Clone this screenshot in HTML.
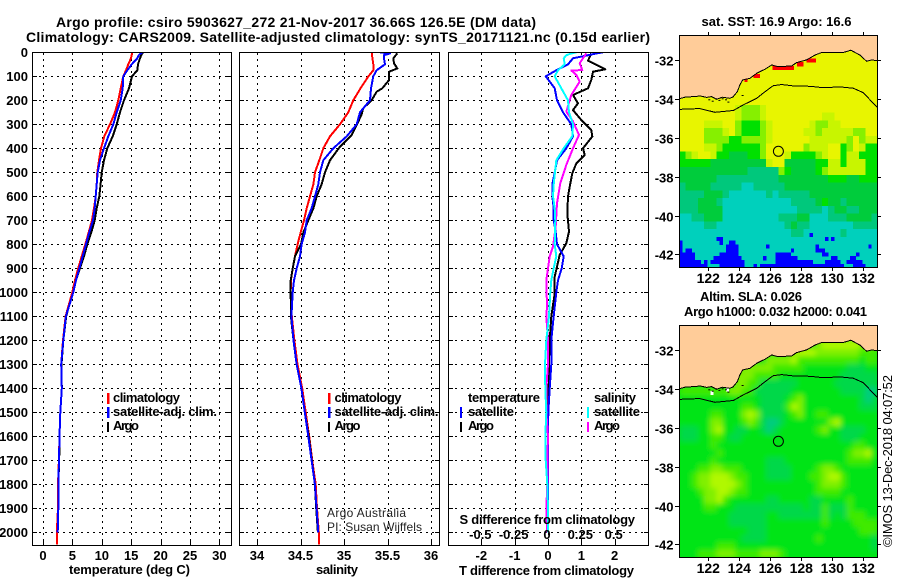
<!DOCTYPE html>
<html>
<head>
<meta charset="utf-8">
<title>Argo profile</title>
<style>
html,body{margin:0;padding:0;background:#fff;width:900px;height:580px;overflow:hidden}
svg{display:block}
text{font-family:"Liberation Sans",sans-serif;font-weight:bold;font-size:13px;fill:#000}
.thin{font-weight:normal}
.frame{fill:none;stroke:#000;stroke-width:1;shape-rendering:crispEdges}
.dot{stroke:#000;stroke-width:1;stroke-dasharray:2 4;shape-rendering:crispEdges;fill:none}
.tick{stroke:#000;stroke-width:1;shape-rendering:crispEdges;fill:none}
.prof{fill:none;stroke-width:2;shape-rendering:crispEdges;stroke-linejoin:round}
</style>
</head>
<body>
<svg id="chart" xmlns="http://www.w3.org/2000/svg" width="900" height="580" viewBox="0 0 900 580">
<defs>
<clipPath id="clipT"><rect x="33" y="53" width="198" height="492"/></clipPath>
<clipPath id="clipS"><rect x="240" y="53" width="199" height="492"/></clipPath>
<clipPath id="clipD"><rect x="449" y="53" width="199" height="492"/></clipPath>
<clipPath id="clipM1"><rect x="679.5" y="35" width="198" height="232.5"/></clipPath>
<clipPath id="clipM2"><rect x="679.5" y="325" width="198" height="232.5"/></clipPath>
<filter id="smooth" filterUnits="userSpaceOnUse" x="660" y="300" width="240" height="280"><feGaussianBlur stdDeviation="2.6"/></filter>
</defs>
<text x="56" y="27" font-size="14" style="font-size:14px" textLength="480" lengthAdjust="spacing">Argo profile: csiro 5903627_272 21-Nov-2017 36.66S 126.5E (DM data)</text>
<text x="26" y="42" style="font-size:14px" textLength="624" lengthAdjust="spacing">Climatology: CARS2009. Satellite-adjusted climatology: synTS_20171121.nc (0.15d earlier)</text>

<g id="gridLayer"></g>
<g id="marksT" clip-path="url(#clipT)"></g>
<g id="marksS" clip-path="url(#clipS)"></g>
<g id="marksD" clip-path="url(#clipD)"></g>
<rect class="frame" x="32.5" y="52.5" width="199" height="493"/>
<rect class="frame" x="239.5" y="52.5" width="200" height="493"/>
<rect class="frame" x="448.5" y="52.5" width="200" height="493"/>
<g id="labels"></g>

<text x="69" y="574" textLength="121" lengthAdjust="spacing">temperature (deg C)</text>
<text x="316" y="574" textLength="42" lengthAdjust="spacing">salinity</text>
<text x="459" y="575" textLength="175" lengthAdjust="spacing">T difference from climatology</text>
<text x="459.5" y="524" textLength="175.5" lengthAdjust="spacing">S difference from climatology</text>

<g>
<rect x="107" y="393" width="2.5" height="11" fill="#f00"/>
<text x="113" y="402" textLength="67" lengthAdjust="spacing">climatology</text>
<rect x="107" y="407" width="2.5" height="11" fill="#00f"/>
<text x="113" y="416" textLength="104" lengthAdjust="spacing">satellite-adj. clim.</text>
<rect x="107" y="422" width="2" height="10" fill="#000"/>
<text x="113" y="430" textLength="26" lengthAdjust="spacing">Argo</text>
</g>
<g>
<rect x="328" y="393" width="2.5" height="11" fill="#f00"/>
<text x="334.5" y="402" textLength="67" lengthAdjust="spacing">climatology</text>
<rect x="328" y="407" width="2.5" height="11" fill="#00f"/>
<text x="334.5" y="416" textLength="104" lengthAdjust="spacing">satellite-adj. clim.</text>
<rect x="328" y="422" width="2" height="10" fill="#000"/>
<text x="334.5" y="430" textLength="26" lengthAdjust="spacing">Argo</text>
</g>
<g>
<text x="468" y="402" textLength="72" lengthAdjust="spacing">temperature</text>
<rect x="460" y="407" width="2" height="11" fill="#00f"/>
<text x="468" y="416" textLength="46" lengthAdjust="spacing">satellite</text>
<rect x="460" y="422" width="2" height="10" fill="#000"/>
<text x="468" y="430" textLength="26" lengthAdjust="spacing">Argo</text>
<text x="594" y="402" textLength="42" lengthAdjust="spacing">salinity</text>
<rect x="587" y="407" width="2" height="11" fill="#0ff"/>
<text x="594" y="416" textLength="46" lengthAdjust="spacing">satellite</text>
<rect x="587" y="422" width="2" height="10" fill="#f0f"/>
<text x="594" y="430" textLength="26" lengthAdjust="spacing">Argo</text>
</g>
<text class="thin" x="327" y="517" style="font-size:12px;fill:#222" textLength="79" lengthAdjust="spacing">Argo Australia</text>
<text class="thin" x="327" y="531" style="font-size:12px;fill:#222" textLength="95" lengthAdjust="spacing">PI: Susan Wijffels</text>

<g id="map1"></g>
<g id="map2"></g>
<text x="701.5" y="26" textLength="150" lengthAdjust="spacing">sat. SST: 16.9 Argo: 16.6</text>
<text x="700" y="301" textLength="102" lengthAdjust="spacing">Altim. SLA: 0.026</text>
<text x="684" y="316" textLength="183" lengthAdjust="spacing">Argo h1000: 0.032 h2000: 0.041</text>
<text class="thin" transform="translate(892,547) rotate(-90)" x="0" y="0" textLength="172" lengthAdjust="spacing">©IMOS 13-Dec-2018 04:07:52</text>
</svg>
<script>
const depthLevels = [0,5,12,25,50,75,100,150,200,250,300,350,400,450,500,550,600,650,700,750,800,850,900,950,1000,1100,1200,1300,1400,1500,1600,1700,1800,1900,2000,2050];
const depthTicks = [0,100,200,300,400,500,600,700,800,900,1000,1100,1200,1300,1400,1500,1600,1700,1800,1900,2000];
const tempTicks = [0,5,10,15,20,25,30];
const salTicks = [34,34.5,35,35.5,36];
const salTickLabels = ["34","34.5","35","35.5","36"];
const tDiffTicks = [-2,-1,0,1,2];
const sDiffTicks = [-0.5,-0.25,0,0.25,0.5];
const sDiffLabels = ["-0.5","-0.25","0","0.25","0.5"];
const lonTicks = [122,124,126,128,130,132];
const latTicks = [-32,-34,-36,-38,-40,-42];

const tempClim = [15.19,15.15,15.07,14.97,14.51,14.12,13.66,13.21,12.81,12.24,11.39,10.43,9.86,9.52,9.24,9.13,8.96,8.67,8.33,7.77,7.2,6.58,5.99,5.44,4.99,3.85,3.4,3.1,3.2,2.95,2.8,2.7,2.55,2.55,2.35,2.35];
const tempSat = [16.95,16.6,16.3,16.04,15.08,14.34,13.66,13.55,13.21,12.53,11.96,11.11,10.37,9.69,9.3,9.13,8.96,8.79,8.5,7.88,7.31,6.75,6.18,5.61,5.16,3.9,3.45,3.1,3.2,2.95,2.8,2.72,2.6,2.6,2.5,null];
const tempArgo = [16.95,16.9,16.7,16.5,16.15,16.04,15.14,14.63,13.78,13.1,12.53,11.85,10.94,10.37,9.98,9.8,9.58,9.13,8.79,8.22,7.54,6.97,6.29,5.61,5.05,3.95,3.45,3.15,3.2,2.95,2.8,2.75,2.6,2.6,2.45,null];

const salClim = [35.318,35.32,35.322,35.326,35.337,35.337,35.28,35.19,35.107,35.05,34.954,34.839,34.762,34.716,34.667,34.648,34.609,34.571,34.54,34.502,34.467,34.437,34.41,34.39,34.387,34.40,34.43,34.465,34.52,34.56,34.6,34.635,34.675,34.69,34.71,34.715];
const salSat = [35.414,35.529,35.46,35.46,35.471,35.375,35.337,35.31,35.299,35.184,35.146,35.031,34.877,34.762,34.724,34.705,34.667,34.628,34.571,34.552,34.513,34.494,34.456,34.425,34.41,34.395,34.42,34.455,34.51,34.55,34.59,34.628,34.665,34.685,34.705,null];
const salArgoDepth = [4,25,46,67,81,115,150,164,199,233,261,303,345,393,450,500,550,600,650,700,750,800,850,900,950,1000,1100,1200,1300,1400,1500,1600,1700,1800,1900,2000];
const salArgo = [35.613,35.567,35.575,35.613,35.52,35.52,35.44,35.376,35.318,35.222,35.2,35.146,35.088,34.954,34.839,34.782,34.743,34.686,34.648,34.59,34.533,34.506,34.437,34.41,34.387,34.387,34.39,34.42,34.455,34.51,34.55,34.595,34.63,34.665,34.68,34.7];

const tDiffSat = [1.65,1.45,1.2,.75,.6,.25,-.07,.2,.27,.45,.7,.75,.55,.27,.2,.13,.13,.17,.17,.23,.27,.47,.41,.3,.25,.17,.1,.1,.05,.01,0,0,0,0,0,null];
const tDiffArgoDepth = [4,35,71,81,115,150,178,213,241,282,324,351,400,428,463,504,560,601,671,747,796,844,935,1006,1100,1200,1300,1400,1500,1600,1700,1800,1900,2000];
const tDiffArgo = [1.3,1.2,1.72,1.35,1.3,1.2,.75,.9,.75,1.0,1.3,1.33,1.05,1.1,.85,.73,.65,.6,.58,.63,.55,.35,.2,.2,.1,.05,.03,.02,0,0,0,0,0,0];
const sDiffSat = [.2125,.175,.1375,.1175,.125,.075,.05,.1,.15,.1575,.1875,.1825,.1175,.0625,.0525,.0425,.0375,.05,.055,.0525,.05,.0625,.0425,.025,.0175,.0075,-.0125,-.0225,-.02,-.0125,-.02,-.0175,-.005,0,0,null];
const sDiffArgoDepth = [4,25,46,74,76,94,122,178,247,288,344,400,469,546,629,726,810,851,949,1060,1100,1200,1300,1400,1500,1600,1700,1800,1900,2000];
const sDiffArgo = [.2875,.2625,.2375,.2575,.175,.2125,.2375,.175,.1375,.1875,.2325,.1875,.1375,.0925,.0675,.0575,.0375,.0125,-.0125,-.0075,-.0125,0,0,-.0125,-.0125,0,-.005,-.005,-.0125,-.0075];

const coastLon = [120.13,120.5,121.03,121.5,121.89,122.2,122.54,122.9,123.40,123.6,123.87,124.04,124.22,124.69,125.12,125.66,126.09,126.52,127.38,127.70,128.34,128.88,129.31,129.96,130.71,131.20,131.78,132.22,132.54,132.90];
const coastLat = [-33.98,-33.9,-33.87,-33.84,-33.91,-33.87,-34.01,-33.9,-33.96,-33.88,-33.62,-33.27,-33.01,-32.93,-32.67,-32.46,-32.24,-32.33,-32.29,-32.12,-31.98,-31.73,-31.60,-31.59,-31.60,-31.48,-31.73,-32.05,-31.98,-32.02];
const isletLon = [122.0,122.22,122.43,122.65,122.86,123.08,123.23,124.15];
const isletLat = [-34.01,-34.08,-33.96,-34.04,-33.96,-34.01,-34.13,-33.79];
const shelfLon = [120.13,120.60,121.46,122.43,123.61,124.26,125.12,125.66,126.19,126.73,127.48,128.56,129.42,130.49,131.35,132.0,132.54,132.90];
const shelfLat = [-34.53,-34.51,-34.49,-34.68,-34.59,-34.30,-33.96,-33.62,-33.31,-33.25,-33.32,-33.34,-33.41,-33.37,-33.44,-33.67,-34.13,-34.42];
const floatLon = [126.52];
const floatLat = [-36.69];

/* SST class per 0.4 degree cell, north to south */
const sstRows = [
"YYYYYYYYYYYYYYYYYYYYYYYYYYYYYYYY",
"YYYYYYYYYYYYYYYYYYYYYYYYYYYYYYYY",
"YYYYYYYYYYYYYYYYYYYYYYYYYYYYYYYY",
"YYYYYYYYYYYYYYYYYYYYYYYYYYYYYYYY",
"YYYYYYYYYYYYYYYYYYYYYYYYYYYYYYYY",
"YYYYYYYYYYYYYYYYYYYYYYYYYYYYYYYY",
"YYYYYYYYYYYYYYYYYYYYYYYYYYYYYYYY",
"YYYYYYYYYYYYYYYYYYYYYYYYYYYYYYYY",
"YYYYYYYYYYYYYYYYYYYYYYYYYYYYYYYY",
"YYYYYYYYYygggyYYYYYYYYYYYYYYYYYY",
"YYYYYYYYYygggyYYYYYYYYYyyYYYYYYY",
"YYYYyyyYYgGGGgyYYYYYYyggyyYYYYYY",
"YYYYgggyYgGGGgyYYYYYyygyyyyyggYY",
"YYYYggggGGggggyYYYYYYyyyyyygYgyy",
"YYYYyygGGGGGGgYYYYYYgyyyYYGgYyGG",
"GgyYYyGGMMMGGgYYYyGGGGgyYYGyyGGG",
"GGGGGMMMMMMMMMyYYMMMMMGGyyGyyyGG",
"MMMMMMMMMMMNNNNNgGMMMMGgyyyyyyGG",
"MMMMMMNNNNNNNNNNMMMMMMMMGGGMMGGG",
"NMMMMNNNNNTTNNNNNMMMMMMMMMMMMMMM",
"NNNNMMMNTTTTTTNTNNNNNMMMMMMMMMMM",
"NNNMMMNTTTTTTTTTTTNNNNMGMMNMMMMM",
"NNNMMMMTTTTTTTTTTTTNNNNTNMMNNMMM",
"TTNNMMMTTTTTTTTTNNNMMTTTNNNMMMMN",
"TTTTNNTTTTTTTTTTTNMNNTTTTTTTNNNN",
"TTTTTTTTTTTTTTTTTTNNTTTTTTNTTTTT",
"TTTTTTTTTTTTTTTTTTTTTTTTTTTTTTTT",
"TTTTTTTTTTTTTTTTTTTTTTTTTTTTTTTT",
"TTTTTTTTTTTTTTTTTTTTTTTTTTTTTTTT",
"TTTTTTTTTTTTTTTTTTTTTTTTTTTTTTTT"
];
/* SST extremes per 0.2 degree cell, keyed by row; R warm, B cold, dot none */
const sstExtremeRows = {
6:".........................................RRR",
7:"......................................RR",
8:"..............................RRRRRRR",
10:"........................RR",
11:".....................R",
51:"..........................................B",
52:"............BB.................................B.B",
53:"B............B..BB",
54:"B..............BBBB.........B...............B................B",
55:"B.BB...........BBBB.................B.......BBB",
56:"BBBBB........BBBBBB............BBBBB..........BB.........B",
57:"BBBBB......BBBBBBBBB.......B...BBBBBBB...........BB....BB",
58:"BBBBBBB.B.BBBBBBBBBBB..........BBBBBBBBBBBB....BBBBB..BBBBB",
59:"BBBBBBBBB....BBBBBBBB...B.BBBBBBBBBBBBBBBBBBBBBBBBBBB...BBBB"
};
/* SLA class per 0.4 degree cell, north to south */
const slaRows = [
"cccccccccccccccccccccccccccccccc",
"cccccccccccccccccccccccccccccccc",
"cccccccccccccccccccccceffffffeee",
"ccccccccccccccccccefffeeeeeeeddd",
"cccccccccccccceeeefddddddddddcdd",
"cccccccccceeeeedddddcccccccbbbcc",
"ccccccccceeeddddccccccccccbbbbbb",
"ccccccccceeddbbbbbbccccccbbbbbbb",
"ddddddddeeddbbbbbbccccccccbbbbaa",
"cccccccccccccbbbbcdecccccccccbab",
"ccccccccccddcbbbbdfecccccccccbbb",
"cccccddcccefebbbbcdeccddcccccccc",
"ccccceecccdedbaabcccccccefcccccc",
"bbbccefccbbccbabccccccdeccbbbbcc",
"bbbccddcbbccccccccccccccccbbbccc",
"cccccdccccccccccccccccccccccddcc",
"ccccccdccccccccccccccccccccdeefc",
"cccccdccccccccbbbccccccccccddddc",
"cccddeedddccccbbbbccccdeedcccccc",
"ccdeefffeddcccbbbbcccddeffdccccc",
"ccdeeffffedcccccccccccdeeedccccc",
"cccdeeffeddcccccccccccddddcccccc",
"cccceefdccccccbbcccccbbccccdcccc",
"ccccddcccbbbbbbbbbbbcbbdbbbdcccc",
"ccccccccbbbbbbccbbbbbbbdbcbdddcc",
"ccccccccbbbbbbcccccccccdccccdddd",
"cccccccccccbbbcccccccccccccccddd",
"ccccccccccbbbbccccccccdccccccccb",
"ccccccdddccccccccccccccccccccccb",
"cccdddeeeddddeeedccccccccccccccc"
];
const slaExtremeRows = {
16:"...............W",
17:"..........W"
};

const svgNS = "http://www.w3.org/2000/svg";
const sstColors = {Y:"#e8f500",y:"#c8f500",g:"#86f000",G:"#00e000",M:"#00cc3c",N:"#00c87c",T:"#00d0bc",B:"#0000ff",R:"#ff0000"};
const slaColors = {a:"#00cc80",b:"#00d848",c:"#00e414",d:"#40ea00",e:"#80f000",f:"#b0f800",W:"#ffffff"};

function el(tag, attrs, parent){
  const n = document.createElementNS(svgNS, tag);
  for (const k in attrs) n.setAttribute(k, attrs[k]);
  parent.appendChild(n);
  return n;
}
const yDepth = d => 52.3 + 0.24 * d;
const xTemp = v => 43 + 5.88 * v;
const xSal = v => 257 + 87 * (v - 34);
const xTDiff = v => 548 + 33.33 * v;
const xSDiff = v => 548 + 133.3 * v;

const gridLayer = document.getElementById("gridLayer");
const labels = document.getElementById("labels");

function addText(str, x, y, anchor, name){
  const t = el("text", {x:x, y:y, "text-anchor":anchor}, labels);
  
  
  t.textContent = str;
}
function addGridV(x){
  const l = el("line", {class:"dot", x1:x, x2:x, y1:53, y2:545}, gridLayer);
  
  
  const t = el("line", {class:"tick", x1:x, x2:x, y1:541, y2:545}, gridLayer);
  
  
}
const panelEdges = [[33,231],[240,439],[449,648]];
panelEdges.forEach(function(edge){
  depthTicks.forEach(function(d){
    if (d === 0) return;
    const y = Math.round(yDepth(d)) + 0.5;
    const l = el("line", {class:"dot", x1:edge[0], x2:edge[1], y1:y, y2:y}, gridLayer);
    
    
    const a = el("line", {class:"tick", x1:edge[0], x2:edge[0] + 4, y1:y, y2:y}, gridLayer);
    
    
    const b = el("line", {class:"tick", x1:edge[1] - 4, x2:edge[1], y1:y, y2:y}, gridLayer);
    
    
  });
});
depthTicks.forEach(d => addText(String(d), 28, Math.round(yDepth(d)) + 5, "end", "depth-tick-label"));
tempTicks.forEach(v => { addGridV(Math.round(xTemp(v)) + 0.5); addText(String(v), xTemp(v), 560, "middle", "temperature-tick-label"); });
salTicks.forEach((v, i) => { addGridV(Math.round(xSal(v)) + 0.5); addText(salTickLabels[i], xSal(v), 560, "middle", "salinity-tick-label"); });
tDiffTicks.forEach(v => { addGridV(Math.round(xTDiff(v)) + 0.5); addText(String(v), xTDiff(v), 560, "middle", "t-difference-tick-label"); });
sDiffTicks.forEach((v, i) => addText(sDiffLabels[i], xSDiff(v) - 1, 539, "middle", "s-difference-tick-label"));

function drawProfile(parent, values, depths, xFn, color, width, name){
  const pts = [];
  values.forEach(function(v, i){
    if (v === null) return;
    pts.push(xFn(v).toFixed(1) + "," + yDepth(depths[i]).toFixed(1));
  });
  const p = el("polyline", {class:"prof", points:pts.join(" "), stroke:color, "stroke-width":width}, parent);
  
  
}
const marksT = document.getElementById("marksT");
drawProfile(marksT, tempArgo, depthLevels, xTemp, "#000", 2.6, "temperature-argo-line");
drawProfile(marksT, tempClim, depthLevels, xTemp, "#f00", 2.6, "temperature-climatology-line");
drawProfile(marksT, tempSat, depthLevels, xTemp, "#00f", 2.6, "temperature-satellite-line");
const marksS = document.getElementById("marksS");
drawProfile(marksS, salClim, depthLevels, xSal, "#f00", 2.6, "salinity-climatology-line");
drawProfile(marksS, salArgo, salArgoDepth, xSal, "#000", 2.6, "salinity-argo-line");
drawProfile(marksS, salSat, depthLevels, xSal, "#00f", 2.6, "salinity-satellite-line");
const marksD = document.getElementById("marksD");
drawProfile(marksD, tDiffArgo, tDiffArgoDepth, xTDiff, "#000", 2.6, "t-difference-argo-line");
drawProfile(marksD, tDiffSat, depthLevels, xTDiff, "#00f", 2.6, "t-difference-satellite-line");
drawProfile(marksD, sDiffArgo, sDiffArgoDepth, xSDiff, "#f0f", 2.6, "s-difference-argo-line");
drawProfile(marksD, sDiffSat, depthLevels, xSDiff, "#0ff", 2.6, "s-difference-satellite-line");

function drawMap(group, top, rows, colors, extremes, clipId, smooth, baseColor){
  const lat32 = top + 25.3;
  const xLon = lon => 708.3 + 15.5 * (lon - 122);
  const yLat = lat => lat32 - 19.4 * (lat + 32);
  const lon0 = 120.13, lat0 = -30.7;
  const body = el("g", {"clip-path":"url(#" + clipId + ")"}, group);
  
  
  const base = el("rect", {x:679, y:top, width:199, height:233, fill:baseColor}, body);
  
  
  const field = el("g", smooth ? {filter:"url(#smooth)"} : {"shape-rendering":"crispEdges"}, body);
  
  
  rows.forEach(function(row, r){
    for (let c = 0; c < 32; c++){
      const key = row.charAt(c) || row.charAt(row.length - 1);
      const x = xLon(lon0 + 0.4 * c), y = yLat(lat0 - 0.4 * r);
      const cell = el("rect", {x:x.toFixed(1), y:y.toFixed(1), width:6.7, height:8.3, fill:colors[key]}, field);
      
      
    }
  });
  const detail = el("g", {"shape-rendering":"crispEdges"}, body);
  
  
  Object.keys(extremes).forEach(function(k){
    const row = extremes[k], r = +k;
    for (let c = 0; c < row.length; c++){
      if (row[c] === ".") continue;
      const x = xLon(lon0 + 0.2 * c), y = yLat(lat0 - 0.2 * r);
      const cell = el("rect", {x:x.toFixed(1), y:y.toFixed(1), width:3.3, height:4.1, fill:colors[row[c]]}, detail);
      
      
    }
  });
  const coastPts = coastLon.map((lon, i) => xLon(lon).toFixed(1) + "," + yLat(coastLat[i]).toFixed(1));
  const landPts = coastPts.concat([xLon(133) + "," + (top - 2), xLon(120) + "," + (top - 2)]);
  const land = el("polygon", {points:landPts.join(" "), fill:"#ffcc99", stroke:"none", "shape-rendering":"crispEdges"}, body);
  
  
  const coast = el("polyline", {points:coastPts.join(" "), fill:"none", stroke:"#000", "stroke-width":1, "shape-rendering":"crispEdges"}, body);
  
  
  isletLon.forEach(function(lon, i){
    const d = el("rect", {x:xLon(lon).toFixed(1), y:yLat(isletLat[i]).toFixed(1), width:2, height:1, fill:"#000"}, body);
    
    
  });
  const shelfPts = shelfLon.map((lon, i) => xLon(lon).toFixed(1) + "," + yLat(shelfLat[i]).toFixed(1));
  const shelf = el("polyline", {points:shelfPts.join(" "), fill:"none", stroke:"#000", "stroke-width":1, "shape-rendering":"crispEdges"}, body);
  
  
  const marker = el("circle", {cx:xLon(floatLon[0]).toFixed(1), cy:yLat(floatLat[0]).toFixed(1), r:5, fill:"none", stroke:"#000", "stroke-width":1}, group);
  
  
  const frame = el("rect", {class:"frame", x:679.5, y:top + 0.5, width:198, height:232}, group);
  
  
  lonTicks.forEach(function(lon){
    const x = Math.round(xLon(lon)) + 0.5;
    const a = el("line", {class:"tick", x1:x, x2:x, y1:top - 3, y2:top}, group);
    
    
    const b = el("line", {class:"tick", x1:x, x2:x, y1:top + 233, y2:top + 236}, group);
    
    
    const t = el("text", {x:xLon(lon), y:top + 248, "text-anchor":"middle"}, group);
    
    
    t.textContent = String(lon);
    t.setAttribute('style', 'font-size:14px');
  });
  latTicks.forEach(function(lat){
    const y = Math.round(yLat(lat)) + 0.5;
    const a = el("line", {class:"tick", x1:675, x2:679, y1:y, y2:y}, group);
    
    
    const b = el("line", {class:"tick", x1:878, x2:881, y1:y, y2:y}, group);
    
    
    const t = el("text", {x:673.5, y:y + 5, "text-anchor":"end"}, group);
    
    
    t.textContent = String(lat);
  });
}
drawMap(document.getElementById("map1"), 35, sstRows, sstColors, sstExtremeRows, "clipM1", false, "#e8f500");
drawMap(document.getElementById("map2"), 325, slaRows, slaColors, slaExtremeRows, "clipM2", true, "#00e414");
</script>
</body>
</html>
